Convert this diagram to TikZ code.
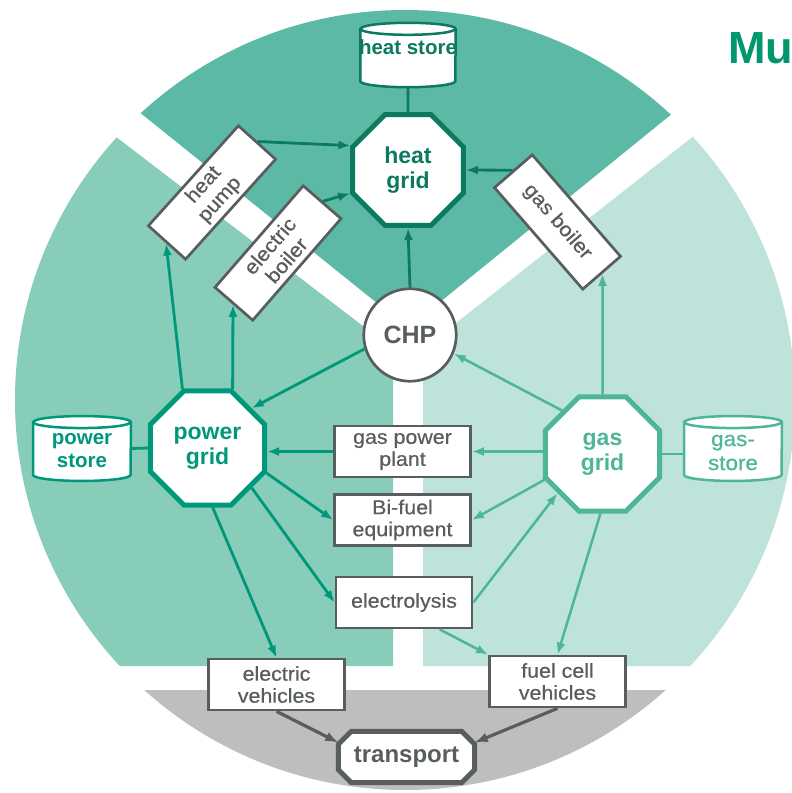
\documentclass[tikz,border=0pt]{standalone}
\usepackage{fontspec}
\setmainfont{Liberation Sans}
\newfontfamily\boxf{Liberation Sans}[FakeStretch=1.07,FakeBold=0.5]
\usetikzlibrary{arrows.meta,shapes.geometric}
\definecolor{heatc}{HTML}{0B7A5E}
\definecolor{powc}{HTML}{00987A}
\definecolor{gasc}{HTML}{4DB598}
\definecolor{grayc}{HTML}{585E5D}
\definecolor{heatbg}{HTML}{5CB9A5}
\definecolor{powbg}{HTML}{88CCBA}
\definecolor{gasbg}{HTML}{BDE3DA}
\definecolor{trbg}{HTML}{BEBEBE}
\definecolor{muc}{HTML}{00976F}
\newcommand\drawcyl[3]{%
  \filldraw[draw=#3, fill=white, line width=2.5pt] ([yshift=-6pt]#1.north west) -- ([yshift=6pt]#1.south west) arc[start angle=180, end angle=360, x radius=#2, y radius=6pt] -- ([yshift=-6pt]#1.north east) arc[start angle=0, end angle=180, x radius=#2, y radius=6pt] -- cycle;
  \draw[draw=#3, line width=2.5pt] ([yshift=-6pt]#1.north west) arc[start angle=180, end angle=360, x radius=#2, y radius=6pt];}
\tikzset{
  gridnode/.style={regular polygon, regular polygon sides=8, line width=5pt, fill=white, inner sep=0pt, align=center, font=\fontsize{23}{25}\selectfont\bfseries},
  box/.style={draw=grayc, line width=2.7pt, fill=white, minimum width=136pt, minimum height=51pt, inner sep=0pt, align=center, text=grayc, font=\boxf\fontsize{20}{22}\selectfont},
  rbox/.style={box, minimum width=134.5pt, minimum height=50pt},
  holder/.style={inner sep=0pt, minimum width=#1},
  storetxt/.style={inner sep=0pt, align=center, font=\fontsize{20.5}{22.5}\selectfont\bfseries},
  harr/.style={draw=heatc, line width=2.8pt, -{Latex[length=12pt,width=9pt]}},
  parr/.style={draw=powc, line width=2.8pt, -{Latex[length=12pt,width=9pt]}},
  garr/.style={draw=gasc, line width=2.5pt, -{Latex[length=12pt,width=9pt]}},
  tarr/.style={draw=grayc, line width=3.2pt, -{Latex[length=13pt,width=10pt]}},
}
\begin{document}
\begin{tikzpicture}[x=1pt,y=1pt]
\useasboundingbox (0,0) rectangle (792,-793);
% background sectors
\begin{scope}
  \clip (405,-400) circle (390);
  \fill[heatbg] (408,-328) -- (6,-5) -- (6,100) -- (806,100) -- (806,-5) -- cycle;
  \fill[powbg] (393,-349) -- (-17,-35) -- (-17,-666) -- (393,-666) -- cycle;
  \fill[gasbg] (423,-349) -- (827,-31) -- (827,-666) -- (423,-666) -- cycle;
  \fill[trbg] (-10,-690) rectangle (810,-810);
\end{scope}
\node[anchor=base west, text=muc, font=\fontsize{45}{45}\selectfont\bfseries, inner sep=0pt] (mu) at (728,-63) {Mu};

% heat store
\node[holder=95pt, minimum height=64pt] (hs) at (408,-55) {};
\drawcyl{hs}{47.5pt}{heatc}
\node[storetxt, text=heatc] (hstxt) at ([yshift=8pt]hs.center) {heat store};
% power store
\node[holder=97.5pt, minimum height=64.5pt] (ps) at (82,-448.5) {};
\drawcyl{ps}{48.75pt}{powc}
\node[storetxt, text=powc] (pstxt) at ([yshift=-2pt]ps.center) {power\\store};
% gas store
\node[holder=97.5pt, minimum height=64.5pt] (gs) at (733,-448.5) {};
\drawcyl{gs}{48.75pt}{gasc}
\node[inner sep=0pt, align=center, text=gasc, font=\boxf\fontsize{21}{24}\selectfont] (gstxt) at ([yshift=-4pt]gs.center) {gas-\\store};

% grids
\node[gridnode, draw=heatc, text=heatc, minimum size=120pt] (hg) at (408,-170) {heat\\grid};
\node[gridnode, draw=powc, text=powc, minimum size=123.5pt] (pg) at (207.5,-448) {power\\grid};
\node[gridnode, draw=gasc, text=gasc, minimum size=123.5pt] (gg) at (602.5,-454) {gas\\grid};

% CHP
\node[circle, draw=grayc, line width=2.7pt, fill=white, minimum size=92.5pt, inner sep=0pt, text=grayc, font=\fontsize{25}{25}\selectfont\bfseries] (chp) at (410,-335) {CHP};

% rotated converters
\node[rbox, rotate=48] (hp) at (212,-192.5) {heat\\pump};
\node[rbox, rotate=49] (eb) at (278,-253) {electric\\boiler};
\node[rbox, rotate=-49] (gb) at (557.5,-222) {gas boiler};

% boxes
\node[box] (gpp) at (402.5,-451.5) {gas power\\plant};
\node[box] (bf) at (402.5,-520) {Bi-fuel\\equipment};
\node[box] (el) at (404,-602.5) {electrolysis};
\node[box] (ev) at (276.5,-684.5) {electric\\vehicles};
\node[box] (fcv) at (557.5,-681.5) {fuel cell\\vehicles};

% transport
\node[inner sep=0pt, minimum width=136pt, minimum height=51pt] (tr) at (406.5,-757) {};
\filldraw[draw=grayc, fill=white, line width=5pt] ([xshift=13pt]tr.north west) -- ([xshift=-13pt]tr.north east) -- ([yshift=-13pt]tr.north east) -- ([yshift=13pt]tr.south east) -- ([xshift=-13pt]tr.south east) -- ([xshift=13pt]tr.south west) -- ([yshift=13pt]tr.south west) -- ([yshift=-13pt]tr.north west) -- cycle;
\node[inner sep=0pt, text=grayc, font=\fontsize{24}{24}\selectfont\bfseries] (trtxt) at (tr.center) {transport};

% plain connections
\draw[heatc, line width=2.8pt] (hs.south) -- (hg.north);
\draw[powc, line width=2.8pt] (ps.east) -- (pg.west);
\draw[gasc, line width=2.8pt] (gg.east) -- (gs.west |- gg.east);

% heat arrows
\draw[harr] (hp.east) -- (hg.157);
\draw[harr] (eb.east) -- (hg.202);
\draw[harr] (gb.west) -- (hg.east);
\draw[harr] (chp.north) -- (hg.south);

% power arrows
\draw[parr] (pg.113) -- (hp.west);
\draw[parr] (pg.67) -- (eb.west);
\draw[parr] (chp.197) -- (pg.42);
\draw[parr] (gpp.west) -- (pg.east |- gpp.west);
\draw[parr] (pg.337) -- (bf.west);
\draw[parr] (pg.318) -- (el.west);
\draw[parr] (pg.275) -- (ev.north);

% gas arrows
\draw[garr] (gg.133) -- (chp.337);
\draw[garr] (gg.north) -- (gb.east);
\draw[garr] (gg.west |- gpp.east) -- (gpp.east);
\draw[garr] (gg.204) -- (bf.east);
\draw[garr] (el.east) -- (gg.221);
\draw[garr] (gg.268) -- (fcv.north);
\draw[garr] (el.-37) -- (fcv.north west);

% transport arrows
\draw[tarr] (ev.south) -- (tr.168);
\draw[tarr] (fcv.south) -- (tr.12);
\end{tikzpicture}
\end{document}
